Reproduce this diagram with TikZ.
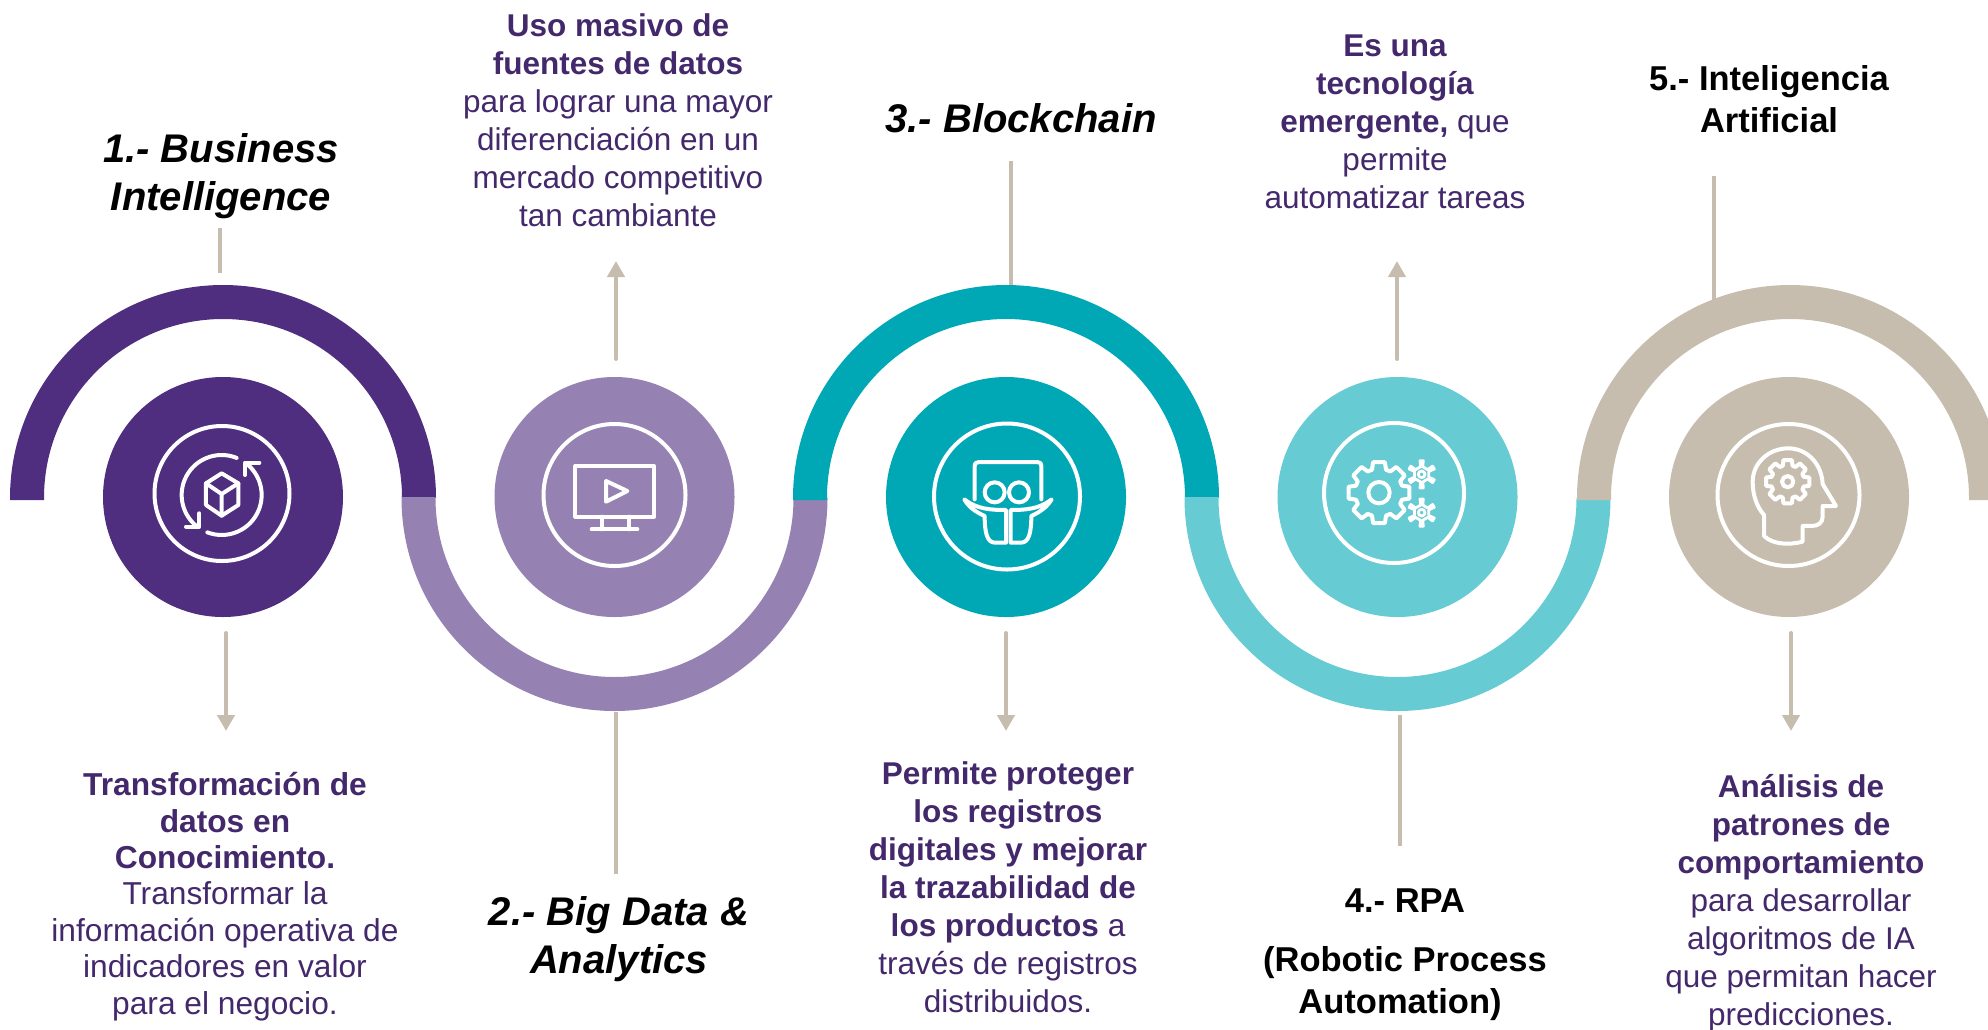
\documentclass[tikz,border=0pt]{standalone}
\usepackage{fontspec}
\setmainfont{Liberation Sans}
\usepackage{xcolor}
\usetikzlibrary{arrows.meta}
\definecolor{darkpurple}{HTML}{4F2D7F}
\definecolor{lightpurple}{HTML}{9581B2}
\definecolor{darkteal}{HTML}{00A7B5}
\definecolor{lightteal}{HTML}{66CBD3}
\definecolor{beige}{HTML}{C7BDAE}
\definecolor{textpurple}{HTML}{43286B}
\tikzstyle{arrow} = [line width=4pt,line cap=round,color=beige,-{Triangle[width=17pt,length=16pt]}]
\tikzstyle{leader} = [line width=4pt,color=beige]
\tikzstyle{band} = [line width=34pt]
\tikzstyle{disc} = [circle,inner sep=0pt,minimum size=240pt]
\tikzstyle{icon} = [line width=4pt,color=white,line join=round,line cap=round]
\tikzstyle{iconthin} = [icon,line width=2.8pt]
\tikzstyle{title} = [align=center,inner sep=0pt,font=\fontsize{40}{48}\selectfont\bfseries\itshape]
\tikzstyle{titleup} = [align=center,inner sep=0pt,font=\fontsize{34.5}{42}\selectfont\bfseries]
\tikzstyle{body} = [align=center,inner sep=0pt,text=textpurple]
\tikzstyle{bodyA} = [body,font=\fontsize{31.7}{36.4}\selectfont]
\tikzstyle{bodyB} = [body,font=\fontsize{31.5}{38}\selectfont]
\begin{document}
\begin{tikzpicture}[x=1pt,y=-1pt]
            \clip (0,0) rectangle (1988,1029);

            \coordinate (line1a) at (219.5,228);
            \coordinate (line1b) at (219.5,273);
            \coordinate (line2a) at (616,712);
            \coordinate (line2b) at (616,874);
            \coordinate (line3a) at (1010.5,161);
            \coordinate (line3b) at (1010.5,286);
            \coordinate (line4a) at (1400,715);
            \coordinate (line4b) at (1400,846);
            \coordinate (line5a) at (1714,176);
            \coordinate (line5b) at (1714,300);
            \draw [leader] (line1a) -- (line1b);
            \draw [leader] (line2a) -- (line2b);
            \draw [leader] (line3a) -- (line3b);
            \draw [leader] (line4a) -- (line4b);
            \draw [leader] (line5a) -- (line5b);

            \coordinate (tail1) at (226,633);
            \coordinate (head1) at (226,731);
            \coordinate (tail2) at (616,359);
            \coordinate (head2) at (616,261);
            \coordinate (tail3) at (1006,633);
            \coordinate (head3) at (1006,731);
            \coordinate (tail4) at (1397,359);
            \coordinate (head4) at (1397,261);
            \coordinate (tail5) at (1791,633);
            \coordinate (head5) at (1791,731);
            \draw [arrow] (tail1) -- (head1);
            \draw [arrow] (tail2) -- (head2);
            \draw [arrow] (tail3) -- (head3);
            \draw [arrow] (tail4) -- (head4);
            \draw [arrow] (tail5) -- (head5);

            \draw [band,darkpurple] (27,500) -- (27,498) arc (180:360:196);
            \draw [band,lightpurple] (418.5,497) -- (418.5,498) arc (180:0:196);
            \draw [band,darkteal] (810,500) -- (810,498) arc (180:360:196);
            \draw [band,lightteal] (1201.5,497) -- (1201.5,498) arc (180:0:196);
            \draw [band,beige] (1594,500) -- (1594,498) arc (180:360:196) -- (1986,500);

            \node [disc,fill=darkpurple] (disc1) at (223,497) {};
            \node [disc,fill=lightpurple] (disc2) at (614.5,497) {};
            \node [disc,fill=darkteal] (disc3) at (1006,497) {};
            \node [disc,fill=lightteal] (disc4) at (1397.5,497) {};
            \node [disc,fill=beige] (disc5) at (1789,497) {};

            \draw [icon] (222,493.5) circle (67.5);
            \begin{scope}[shift={(130,420)},x=0.3333pt,y=-0.3333pt]
                \draw [icon] ([shift={(-68:120)}]275,225) arc (-68:-232:120);
                \draw [icon] ([shift={(-249:120)}]275,225) arc (-249:-408:120);
                \draw [icon] (168,320) -- (208,320) -- (208,280);
                \draw [icon] (345,165) -- (345,128) -- (388,128);
                \draw [icon] (275,160) -- (325,190) -- (325,255) -- (275,287) -- (228,255) -- (228,190) -- cycle;
                \draw [icon] (228,190) -- (275,222) -- (325,190) (275,222) -- (275,287);
            \end{scope}

            \draw [icon] (614.5,495) circle (71);
            \begin{scope}[shift={(530,420)},x=0.3333pt,y=-0.3333pt]
                \draw [icon] (136,138) rectangle (372,290);
                \draw [icon] (215,290) -- (215,328) (298,290) -- (298,328);
                \draw [icon] (185,328) -- (322,328);
                \draw [icon] (228,183) -- (228,245) -- (292,213) -- cycle;
            \end{scope}

            \draw [icon] (1007,496.5) circle (73);
            \begin{scope}[shift={(910,410)},x=0.3333pt,y=-0.3333pt]
                \draw [icon] (194,268) -- (194,170) .. controls (194,160) and (198,156) .. (207,156) -- (382,156) .. controls (390,156) and (394,160) .. (394,170) -- (394,268);
                \draw [icon] (254,247) circle (30);
                \draw [icon] (327,247) circle (30);
                \draw [icon] (163,268) .. controls (200,298) and (245,300) .. (288,300) -- (288,398) -- (255,398) .. controls (232,398) and (224,370) .. (224,318) .. controls (195,305) and (175,290) .. (163,268) -- cycle;
                \draw [icon] (425,268) .. controls (388,298) and (343,300) .. (302,300) -- (302,398) -- (333,398) .. controls (356,398) and (364,370) .. (364,318) .. controls (392,305) and (412,290) .. (425,268) -- cycle;
            \end{scope}

            \draw [icon] (1394,493) circle (70);
            \begin{scope}[shift={(1300,410)},x=0.3333pt,y=-0.3333pt]
                \draw [icon] (237,248) circle (32);
                \draw [icon] (237,248) ++(-11:93) \foreach \a in {0,45,...,315} { -- ([shift={(237,248)}]\a-11:93) -- ([shift={(237,248)}]\a+11:93) -- ([shift={(237,248)}]\a+17:72) -- ([shift={(237,248)}]\a+28:72) } -- cycle;
                \foreach \y in {193,308} {
                    \draw [iconthin] (365,\y) circle (10);
                    \draw [iconthin] ([shift={(365,\y)}]22:23) \foreach \a in {30,90,...,330} { -- ([shift={(365,\y)}]\a-8:23) -- ([shift={(365,\y)}]\a-7:41) -- ([shift={(365,\y)}]\a+7:41) -- ([shift={(365,\y)}]\a+8:23) } -- cycle;
                }
            \end{scope}

            \draw [icon] (1788.5,495) circle (71);
            \begin{scope}[shift={(1690,410)},x=0.3333pt,y=-0.3333pt]
                \draw [icon] (222,378) -- (222,315) .. controls (200,290) and (188,255) .. (188,215) .. controls (188,160) and (235,115) .. (295,115) .. controls (350,115) and (395,160) .. (398,222) -- (438,288) -- (398,288) -- (398,320) .. controls (398,338) and (385,348) .. (365,348) -- (338,348) -- (338,395) .. controls (300,405) and (250,405) .. (222,378) -- cycle;
                \draw [icon] (293,215) circle (17);
                \draw [icon] (293,215) ++(-11:66) \foreach \a in {0,45,...,315} { -- ([shift={(293,215)}]\a-11:66) -- ([shift={(293,215)}]\a+11:66) -- ([shift={(293,215)}]\a+17:50) -- ([shift={(293,215)}]\a+28:50) } -- cycle;
            \end{scope}

            \node [title] (name1) at (221,176) {1.- Business\\Intelligence};
            \node [title] (name2) at (619,939) {2.- Big Data \&\\Analytics};
            \node [title] (name3) at (1021,118) {3.- Blockchain};
            \node [titleup] (name4) at (1405,955) {4.- RPA\\[17pt](Robotic Process\\Automation)\kern10pt};
            \node [titleup] (name5) at (1769,99.5) {5.- Inteligencia\\Artificial};

            \node [bodyA] (note1) at (225,896.5) {\textbf{Transformación de}\\\textbf{datos en}\\\textbf{Conocimiento.}\\Transformar la\\información operativa de\\indicadores en valor\\para el negocio.};
            \node [bodyB] (note2) at (618,120.5) {\textbf{Uso masivo de}\\\textbf{fuentes de datos}\\para lograr una mayor\\diferenciación en un\\mercado competitivo\\tan cambiante};
            \node [bodyB] (note3) at (1008,887.5) {\textbf{Permite proteger}\\\textbf{los registros}\\\textbf{digitales y mejorar}\\\textbf{la trazabilidad de}\\\textbf{los productos} a\\través de registros\\distribuidos.};
            \node [bodyB] (note4) at (1395,122) {\textbf{Es una}\\\textbf{tecnología}\\\textbf{emergente,} que\\permite\\automatizar tareas};
            \node [bodyB] (note5) at (1801,903.5) {\textbf{Análisis de}\\\textbf{patrones de}\\\textbf{comportamiento}\\para desarrollar\\algoritmos de IA\\que permitan hacer\\predicciones.};
\end{tikzpicture}
\end{document}
